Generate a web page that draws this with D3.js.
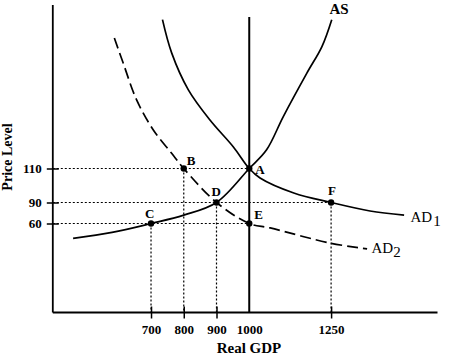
<!DOCTYPE html>
<html>
<head>
<meta charset="utf-8">
<script src="https://cdn.jsdelivr.net/npm/d3@7"></script>
<style>
  html, body { margin: 0; padding: 0; background: #fff; }
  svg { display: block; }
</style>
</head>
<body>
<svg id="chart" width="454" height="356"></svg>
<script>
// ---------- data ----------
const xTicks = [700, 800, 900, 1000, 1250];
const yTicks = [60, 90, 110];
const xTickMarks = [700, 800, 900, 1250];

// curves as [Real GDP, Price Level]
const asCurve  = [[462,50],[581,54],[700,60],[800,72],[900,90],[1000,110],[1053,121],[1104,140.5],[1176,166],[1222,181.6],[1252,197.4]];
const ad1Curve = [[735,197.4],[763,177.9],[814,156.2],[880,138.5],[951,122.8],[1000,110],[1033,104.4],[1136,95.6],[1250,90],[1369,77.9],[1473,72.1]];
const ad2Curve = [[588,186.6],[615,171.9],[656,150.3],[707,132.6],[763,118.9],[800,110],[900,90],[1000,60],[1064,57],[1247,46.8],[1360,42.9]];
const lrasGDP = 1000;
const lrasTop = 199;

const pointNames = ["A","B","C","D","E","F"];
const pointGDP   = [1000, 800, 700, 900, 1000, 1250];
const pointPrice = [110, 110, 60, 90, 60, 90];

// dotted guides
const hGuidePrice = [110, 90, 60];
const hGuideTo    = [1000, 1250, 1000];
const vGuideGDP   = [700, 800, 900, 1250];
const vGuideFrom  = [60, 110, 90, 90];

// ---------- layout / style ----------
const svg = d3.select("#chart");
const x = d3.scaleLinear().domain([400, 1575]).range([52.8, 437.5]);
const y = d3.scaleLinear().domain([0, 60, 90, 110, 206]).range([312.5, 223.5, 202.5, 168.5, 5]);

const serif = "'Liberation Serif', 'Times New Roman', serif";
const labelOffset = { A:[6,5], B:[3,-4], C:[-6,-6], D:[-5,-7], E:[5,-5], F:[-3,-8] };

// dotted guide lines
const guides = svg.append("g").attr("stroke", "#000").attr("stroke-width", 1.2)
  .attr("stroke-dasharray", "2,2").attr("fill", "none");
hGuidePrice.forEach((p, i) => {
  guides.append("line").attr("x1", x(400)).attr("x2", x(hGuideTo[i]))
    .attr("y1", y(p)).attr("y2", y(p));
});
vGuideGDP.forEach((g, i) => {
  guides.append("line").attr("x1", x(g)).attr("x2", x(g))
    .attr("y1", y(vGuideFrom[i])).attr("y2", y(0));
});

// axes
const xAxis = svg.append("g").attr("transform", `translate(0,${y(0)})`)
  .call(d3.axisBottom(x).tickValues(xTicks).tickFormat(d3.format("d")).tickSize(6).tickSizeOuter(0));
xAxis.select(".domain").attr("stroke-width", 1.8);
xAxis.selectAll(".tick line").attr("y1", -6).attr("y2", 6).attr("stroke-width", 1.5)
  .filter(d => !xTickMarks.includes(d)).remove();
xAxis.selectAll(".tick text").attr("y", 21).attr("dy", 0)
  .attr("font-family", serif).attr("font-weight", "bold").attr("font-size", 13).attr("fill", "#000");

const yAxis = svg.append("g").attr("transform", `translate(${x(400)},0)`)
  .call(d3.axisLeft(y).tickValues(yTicks).tickFormat(d3.format("d")).tickSize(6).tickSizeOuter(0));
yAxis.select(".domain").attr("stroke-width", 1.8);
yAxis.selectAll(".tick line").attr("x1", -6).attr("x2", 6).attr("stroke-width", 1.5);
yAxis.selectAll(".tick text").attr("x", -11)
  .attr("font-family", serif).attr("font-weight", "bold").attr("font-size", 13).attr("fill", "#000");
yAxis.select(".domain").attr("d", `M0,${y(206)}V${y(0)}`);
xAxis.select(".domain").attr("d", `M${x(400)},0H${x(1575)}`);

// vertical LRAS line
svg.append("line").attr("x1", x(lrasGDP)).attr("x2", x(lrasGDP))
  .attr("y1", y(lrasTop)).attr("y2", y(0))
  .attr("stroke", "#000").attr("stroke-width", 2);

// curves
const line = d3.line().x(d => x(d[0])).y(d => y(d[1])).curve(d3.curveCatmullRom.alpha(0.5));
svg.append("path").attr("d", line(asCurve)).attr("fill", "none").attr("stroke", "#000").attr("stroke-width", 1.7);
svg.append("path").attr("d", line(ad1Curve)).attr("fill", "none").attr("stroke", "#000").attr("stroke-width", 1.7);
svg.append("path").attr("d", line(ad2Curve)).attr("fill", "none").attr("stroke", "#000").attr("stroke-width", 1.7)
  .attr("stroke-dasharray", "11,5");

// points
pointNames.forEach((n, i) => {
  const px = x(pointGDP[i]), py = y(pointPrice[i]);
  svg.append("circle").attr("cx", px).attr("cy", py).attr("r", 3.2).attr("fill", "#000");
  svg.append("text").attr("x", px + labelOffset[n][0]).attr("y", py + labelOffset[n][1])
    .attr("font-family", serif).attr("font-weight", "bold").attr("font-size", 13)
    .text(n);
});

// curve labels
svg.append("text").attr("x", 339).attr("y", 14).attr("text-anchor", "middle")
  .attr("font-family", serif).attr("font-weight", "bold").attr("font-size", 15).text("AS");

const ad1 = svg.append("text").attr("x", 410.5).attr("y", 222)
  .attr("font-family", serif).attr("font-size", 15);
ad1.append("tspan").text("AD");
ad1.append("tspan").attr("dx", 1).attr("dy", 4).attr("font-size", 15).text("1");

const ad2 = svg.append("text").attr("x", 371.5).attr("y", 253)
  .attr("font-family", serif).attr("font-size", 15);
ad2.append("tspan").text("AD");
ad2.append("tspan").attr("dx", 0).attr("dy", 4).attr("font-size", 15).text("2");

// axis titles
svg.append("text").attr("x", 249).attr("y", 353).attr("text-anchor", "middle")
  .attr("font-family", serif).attr("font-weight", "bold").attr("font-size", 15).text("Real GDP");
svg.append("text").attr("transform", "translate(12,157) rotate(-90)").attr("text-anchor", "middle")
  .attr("font-family", serif).attr("font-weight", "bold").attr("font-size", 14).text("Price Level");
</script>
</body>
</html>
